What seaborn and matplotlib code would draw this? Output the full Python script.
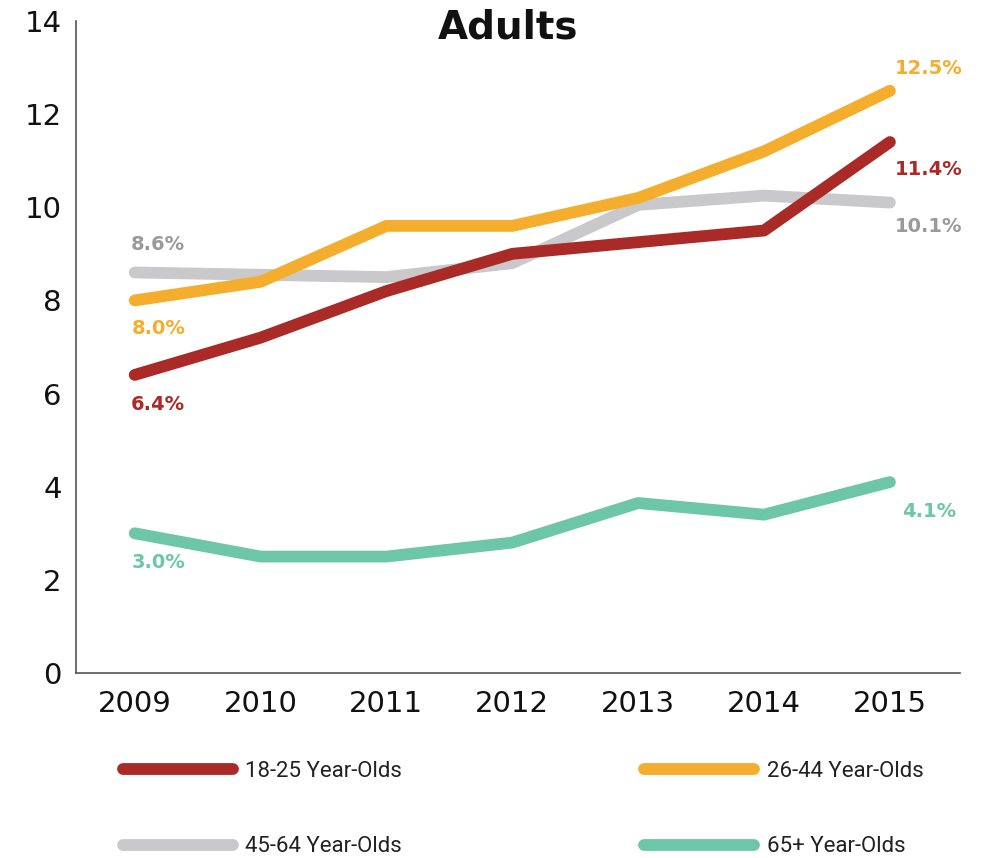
import matplotlib
matplotlib.use("Agg")
import matplotlib.pyplot as plt
import seaborn as sns
import pandas as pd

years = [2009, 2010, 2011, 2012, 2013, 2014, 2015]
groups = ["18-25 Year-Olds", "26-44 Year-Olds", "45-64 Year-Olds", "65+ Year-Olds"]
age_18_25 = [6.4, 7.2, 8.2, 9.0, 9.25, 9.5, 11.4]
age_26_44 = [8.0, 8.4, 9.6, 9.6, 10.2, 11.2, 12.5]
age_45_64 = [8.6, 8.55, 8.5, 8.8, 10.05, 10.25, 10.1]
age_65_up = [3.0, 2.5, 2.5, 2.8, 3.65, 3.4, 4.1]
colors = ["#AA2A27", "#F4AD2C", "#C9C9CB", "#6EC6A8"]
label_colors = ["#AA2A27", "#F4AD2C", "#9A9A9A", "#6EC6A8"]

series = [age_18_25, age_26_44, age_45_64, age_65_up]
df = pd.DataFrame({
    "year": years * 4,
    "rate": [v for s in series for v in s],
    "group": [g for g in groups for _ in years],
})

sns.set_theme(style="white")
plt.rcParams["font.family"] = ["DejaVu Sans"]

fig = plt.figure(figsize=(9.81, 8.58), dpi=100)
ax = fig.add_axes([0.077, 0.2156, 0.902, 0.76])

sns.lineplot(data=df, x="year", y="rate", hue="group", palette=colors,
             hue_order=groups, linewidth=8.5, ax=ax, legend=False,
             solid_capstyle="round", solid_joinstyle="round")
# gray sits behind the other series
for line, z in zip(ax.lines, [4, 5, 3, 2]):
    line.set_zorder(z)

ax.set_xlim(2008.53, 2015.56)
ax.set_ylim(0, 14)
ax.set_xticks(years)
ax.set_xticklabels([str(y) for y in years])
ax.set_yticks(range(0, 15, 2))
ax.tick_params(axis="both", length=0, labelsize=21, colors="#111111")
ax.tick_params(axis="x", pad=12)
ax.tick_params(axis="y", pad=10)
ax.set_xlabel("")
ax.set_ylabel("")
for side in ["top", "right"]:
    ax.spines[side].set_visible(False)
for side in ["left", "bottom"]:
    ax.spines[side].set_color("#555555")
    ax.spines[side].set_linewidth(1.2)

# end-point value labels
lab_kw = dict(fontsize=14, fontweight="bold", ha="center", va="center",
              textcoords="offset points")
first = [(age_18_25, 0, -21), (age_26_44, 1, -20), (age_45_64, 2, 20), (age_65_up, 3, -21)]
for vals, i, dy in first:
    ax.annotate(f"{vals[0]:.1f}%", (years[0], vals[0]), xytext=(17, dy),
                color=label_colors[i], **lab_kw)
last = [(age_26_44, 1, 16), (age_18_25, 0, -20), (age_45_64, 2, -17), (age_65_up, 3, -21)]
for vals, i, dy in last:
    ax.annotate(f"{vals[-1]:.1f}%", (years[-1], vals[-1]), xytext=(28, dy),
                color=label_colors[i], **lab_kw)

fig.text(0.518, 0.968, "Adults", fontsize=28, fontweight="bold",
         ha="center", va="center", color="#111111")

# legend laid out row by row: 18-25 | 26-44 / 45-64 | 65+
order = [0, 2, 1, 3]
handles = [plt.Line2D([], [], color=colors[i], linewidth=8.5, solid_capstyle="round")
           for i in order]
labels = [groups[i] for i in order]
leg = fig.legend(handles, labels, loc="center left", bbox_to_anchor=(0.105, 0.057),
                 ncol=2, frameon=False, handlelength=4.95, handletextpad=0.55,
                 columnspacing=10.9, labelspacing=2.45,
                 prop={"family": ["Roboto", "DejaVu Sans"], "size": 16})
for t in leg.get_texts():
    t.set_color("#222222")

fig.savefig("out.png", dpi=100)
